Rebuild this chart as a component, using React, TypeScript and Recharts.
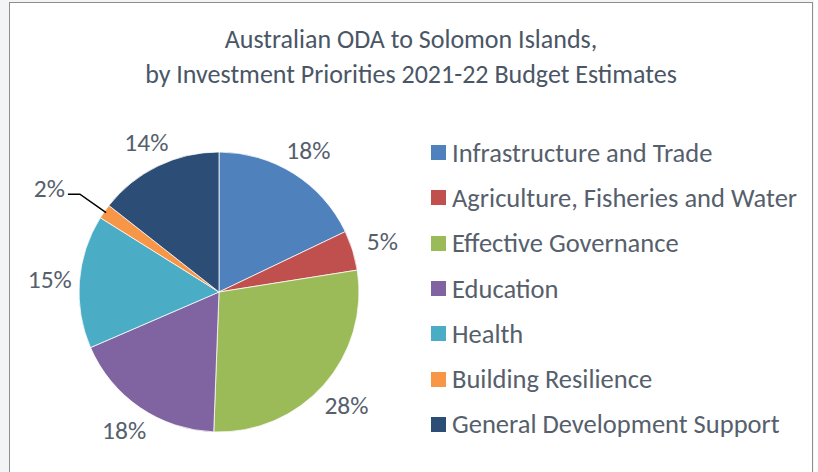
import React from "react";
import { PieChart, Pie, Cell, Legend } from "recharts";

const categories = [
  "Infrastructure and Trade",
  "Agriculture, Fisheries and Water",
  "Effective Governance",
  "Education",
  "Health",
  "Building Resilience",
  "General Development Support",
];
const shares = [17.9, 4.6, 28.1, 17.9, 15.4, 1.7, 14.4];
const colors = ["#4f81bd", "#c0504d", "#9bbb59", "#8064a2", "#4bacc6", "#f79646", "#2c4d75"];
const titleLines = ["Australian ODA to Solomon Islands,", "by Investment Priorities 2021-22 Budget Estimates"];

const data = categories.map((name, i) => ({ name, value: shares[i] }));

const FONT = "Carlito, Lato, 'Open Sans', sans-serif";
const TEXT = "#56606c";
const RAD = Math.PI / 180;

const renderLabel = (props: any) => {
  const { cx, cy, midAngle, outerRadius, percent } = props;
  const dx = Math.cos(-midAngle * RAD);
  const dy = Math.sin(-midAngle * RAD);
  const txt = `${Math.round(percent * 100)}%`;
  if (percent < 0.03) {
    const sx = cx + (outerRadius - 2) * dx;
    const sy = cy + (outerRadius - 2) * dy;
    const ex = cx + (outerRadius + 30) * dx;
    const ey = cy + (outerRadius + 30) * dy;
    const hx = ex - 12;
    return (
      <g>
        <polyline points={`${sx},${sy} ${ex},${ey} ${hx},${ey}`} fill="none" stroke="#000" strokeWidth={1.5} />
        <text x={hx - 3} y={ey - 6} textAnchor="end" dominantBaseline="central" fill={TEXT} fontSize={25.5} fontFamily={FONT}>
          {txt}
        </text>
      </g>
    );
  }
  const dist = outerRadius + 8 + 21 * Math.abs(dx) + 10 * Math.abs(dy);
  return (
    <text
      x={cx + dist * dx}
      y={cy + dist * dy}
      textAnchor="middle"
      dominantBaseline="central"
      fill={TEXT}
      fontSize={25.5}
      fontFamily={FONT}
    >
      {txt}
    </text>
  );
};

const renderLegend = (props: any) => {
  const { payload } = props;
  return (
    <div style={{ fontFamily: FONT }}>
      {(payload || []).map((p: any, i: number) => (
        <div key={i} style={{ display: "flex", alignItems: "center", height: 45.3, fontSize: 26.5, color: TEXT, whiteSpace: "nowrap" }}>
          <span style={{ display: "inline-block", width: 15, height: 15, background: p.color, marginRight: 6, flex: "none" }} />
          <span>{p.value}</span>
        </div>
      ))}
    </div>
  );
};

export default function App() {
  return (
    <div style={{ position: "absolute", left: 0, top: 0, width: 818, height: 472, background: "#f3f4f6", overflow: "hidden" }}>
      <div
        style={{
          position: "absolute",
          left: 9,
          top: 2,
          width: 804,
          height: 480,
          background: "#fff",
          border: "1.5px solid #8e8e8e",
          boxSizing: "border-box",
        }}
      />
      <div style={{ position: "absolute", left: 814, top: 0, width: 4, height: 472, background: "#fff" }} />
      <div
        style={{
          position: "absolute",
          left: 9,
          top: 22,
          width: 804,
          textAlign: "center",
          fontFamily: FONT,
          fontSize: 26,
          lineHeight: "35px",
          color: "#4a5666",
        }}
      >
        {titleLines.map((t, i) => (
          <div key={i}>{t}</div>
        ))}
      </div>
      <div style={{ position: "absolute", left: 0, top: 0 }}>
        <PieChart width={818} height={472} margin={{ top: 0, right: 0, bottom: 0, left: 0 }}>
          <Pie
            data={data}
            dataKey="value"
            nameKey="name"
            cx={219}
            cy={292}
            outerRadius={140}
            startAngle={90}
            endAngle={-270}
            stroke="#ffffff"
            strokeWidth={0.75}
            label={renderLabel}
            labelLine={false}
            isAnimationActive={false}
          >
            {data.map((d, i) => (
              <Cell key={d.name} fill={colors[i]} />
            ))}
          </Pie>
          <Legend
            layout="vertical"
            align="right"
            verticalAlign="top"
            itemSorter={null}
            content={renderLegend}
            wrapperStyle={{ left: 431, top: 130, width: 385 }}
          />
        </PieChart>
      </div>
    </div>
  );
}
